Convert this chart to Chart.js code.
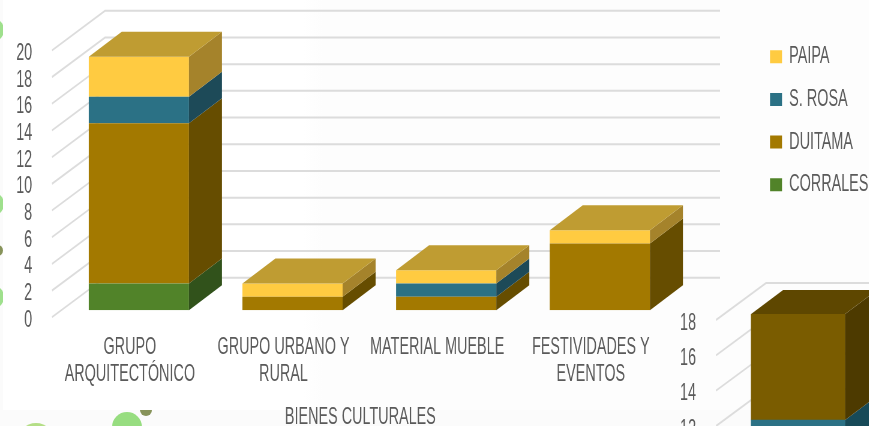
<!DOCTYPE html>
<html>
<head>
<meta charset="utf-8">
<script src="https://cdn.jsdelivr.net/npm/chart.js@4"></script>
<style>
  html, body { margin: 0; height: 426px; width: 869px; overflow: hidden; background: #fbfbfb; }
  canvas { position: absolute; transform-origin: 0 0; }
  #panel { position: absolute; left: 3px; top: 0; width: 866px; height: 410px; background: linear-gradient(90deg, #fff 0, #fff 300px, #fdfdfd 320px); }
  .dot { position: absolute; border-radius: 50%; }
</style>
</head>
<body>
<div class="dot" style="left:-20px;top:18px;width:24px;height:24px;background:#9fe08d"></div>
<div class="dot" style="left:-20px;top:192px;width:24px;height:24px;background:#9fe08d"></div>
<div class="dot" style="left:-8px;top:245px;width:11px;height:11px;background:#87935a"></div>
<div class="dot" style="left:-20px;top:285px;width:24px;height:24px;background:#9fe08d"></div>
<div id="panel"></div>
<div class="dot" style="left:112px;top:412px;width:30px;height:30px;background:#97dd80"></div>
<div class="dot" style="left:140px;top:404px;width:12px;height:12px;background:#87935a;clip-path:inset(6px 0 0 0)"></div>
<div class="dot" style="left:17px;top:423px;width:38px;height:38px;background:#b4de86"></div>
<canvas id="chartBienes" width="1448" height="426" style="left:0;top:0"></canvas>
<canvas id="chartSiguiente" width="367" height="406" style="left:660px;top:270px"></canvas>
<script>
// datos
const categorias = [["GRUPO", "ARQUITECTÓNICO"], ["GRUPO URBANO Y", "RURAL"], "MATERIAL MUEBLE", ["FESTIVIDADES Y", "EVENTOS"]];
const corrales = [2, 0, 0, 0];
const duitama = [12, 1, 1, 5];
const sRosa = [2, 0, 1, 0];
const paipa = [3, 1, 1, 1];

const categorias2 = [""];
const segundaBase = [12];
const segundaAlta = [6];

// el canvas se dibuja mas ancho y se comprime en x, asi la letra queda angosta como en el original
const escala = 0.6;
const px = (v) => v / escala;
const fuente = { family: "'Liberation Sans Narrow', 'Liberation Sans'", size: 24, lineHeight: 1.15 };
const gris = "#5a5a5a";

const caras3d = {
  id: "caras3d",
  afterLayout(chart, args, o) {
    if (chart.options.plugins.legend.display) {
      const lg = chart.legend;
      lg.left = px(770) - chart.options.plugins.legend.labels.padding;
      lg.right = chart.width;
      lg.top = 26;
      lg.bottom = chart.height;
      // el titulo del eje va centrado en las etiquetas, no en las barras
      chart.scales.x.left -= px(o.corrimiento);
      chart.scales.x.right -= px(o.corrimiento);
    }
  },
  beforeDatasetsDraw(chart, args, o) {
    const ctx = chart.ctx;
    const y = chart.scales.y;
    ctx.save();
    ctx.strokeStyle = "#dcdcdc";
    ctx.lineWidth = 2;
    y.ticks.forEach((t) => {
      const py = y.getPixelForValue(t.value);
      ctx.beginPath();
      ctx.moveTo(px(o.muroX0), py + o.bajo);
      ctx.lineTo(px(o.muroX1), py - o.alto);
      ctx.lineTo(px(o.muroX2), py - o.alto);
      ctx.stroke();
    });
    ctx.restore();
  },
  afterDatasetsDraw(chart, args, o) {
    const ctx = chart.ctx;
    const dx = px(o.dx);
    ctx.save();
    chart.data.datasets.forEach((ds, d) => {
      chart.getDatasetMeta(d).data.forEach((bar, i) => {
        if (!ds.data[i]) return;
        const x2 = bar.x + bar.width / 2;
        const x1 = bar.x - bar.width / 2;
        ctx.fillStyle = o.lados[d];
        ctx.beginPath();
        ctx.moveTo(x2, bar.y);
        ctx.lineTo(x2 + dx, bar.y - o.dy);
        ctx.lineTo(x2 + dx, bar.base - o.dy);
        ctx.lineTo(x2, bar.base);
        ctx.fill();
        const esTope = chart.data.datasets.slice(d + 1).every((e) => !e.data[i]);
        if (esTope) {
          ctx.fillStyle = o.tapa;
          ctx.beginPath();
          ctx.moveTo(x1, bar.y);
          ctx.lineTo(x1 + dx, bar.y - o.dy);
          ctx.lineTo(x2 + dx, bar.y - o.dy);
          ctx.lineTo(x2, bar.y);
          ctx.fill();
        }
      });
    });
    ctx.restore();
  },
};

const chartBienes = new Chart(document.getElementById("chartBienes"), {
  type: "bar",
  data: {
    labels: categorias,
    datasets: [
      { label: "CORRALES", data: corrales, backgroundColor: "#518329" },
      { label: "DUITAMA", data: duitama, backgroundColor: "#a37900" },
      { label: "S. ROSA", data: sRosa, backgroundColor: "#2b7185" },
      { label: "PAIPA", data: paipa, backgroundColor: "#ffcb41" },
    ],
  },
  options: {
    responsive: false,
    animation: false,
    barPercentage: 1,
    categoryPercentage: 0.652,
    layout: { padding: { top: 43.3, left: 0, right: px(76.5), bottom: -5 } },
    scales: {
      x: {
        stacked: true,
        grid: { display: false, drawTicks: false },
        border: { display: false },
        ticks: { color: gris, font: fuente, padding: 23, labelOffset: px(-9), maxRotation: 0, autoSkip: false },
        title: { display: true, text: "BIENES CULTURALES", color: gris, font: fuente, padding: { top: -8, bottom: 0 } },
      },
      y: {
        stacked: true,
        min: 0,
        max: 20,
        afterFit(scale) { scale.width = px(62); scale.paddingTop = 0; scale.paddingBottom = 0; },
        grid: { display: false, drawTicks: false },
        border: { display: false },
        ticks: { stepSize: 2, color: gris, font: fuente, padding: px(29.8), labelOffset: 10, autoSkip: false },
      },
    },
    plugins: {
      legend: {
        display: true,
        position: "right",
        align: "start",
        reverse: true,
        labels: { color: gris, font: fuente, boxWidth: px(12), boxHeight: 13, padding: 18.7 },
      },
      tooltip: { enabled: false },
      caras3d: {
        dx: 33, dy: 25, muroX0: 52, muroX1: 105, muroX2: 720, bajo: 7, alto: 32.5, corrimiento: 9,
        lados: ["#31521b", "#664d00", "#1d4a58", "#a5832b"],
        tapa: "#bf9c32",
      },
    },
  },
  plugins: [caras3d],
});

const chartSiguiente = new Chart(document.getElementById("chartSiguiente"), {
  type: "bar",
  data: {
    labels: categorias2,
    datasets: [
      { label: "", data: segundaBase, backgroundColor: "#2b7185" },
      { label: "", data: segundaAlta, backgroundColor: "#7a5c00" },
    ],
  },
  options: {
    responsive: false,
    animation: false,
    barThickness: px(94),
    layout: { padding: { top: 44, left: 0, right: 0, bottom: 44 } },
    scales: {
      x: { stacked: true, display: false },
      y: {
        stacked: true,
        min: 0,
        max: 18,
        afterFit(scale) { scale.width = px(56); scale.paddingTop = 0; scale.paddingBottom = 0; },
        grid: { display: false, drawTicks: false },
        border: { display: false },
        ticks: { stepSize: 2, color: gris, font: fuente, padding: px(20), labelOffset: 9, autoSkip: false },
      },
    },
    plugins: {
      legend: { display: false },
      tooltip: { enabled: false },
      caras3d: {
        dx: 32, dy: 24, muroX0: 56, muroX1: 106, muroX2: 220, bajo: 6, alto: 31,
        lados: ["#174a58", "#4d3a00"],
        tapa: "#5e4700",
      },
    },
  },
  plugins: [caras3d],
});

// comprimir en x los dos canvas
[chartBienes.canvas, chartSiguiente.canvas].forEach((c) => {
  c.style.position = "absolute";
  c.style.transform = "scaleX(" + escala + ")";
});
</script>
</body>
</html>
